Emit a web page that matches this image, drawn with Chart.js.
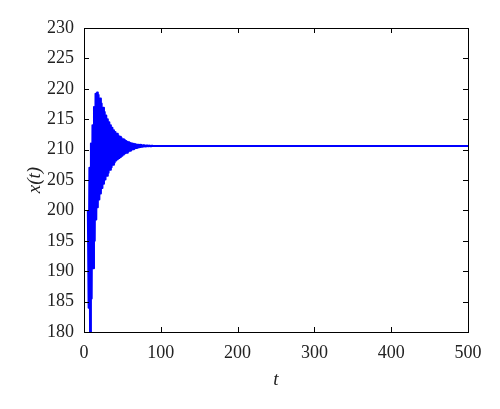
<!DOCTYPE html>
<html>
<head>
<meta charset="utf-8">
<script src="https://cdn.jsdelivr.net/npm/chart.js@4/dist/chart.umd.min.js"></script>
<style>
  body { margin: 0; background: #fff; }
  #wrap { width: 500px; height: 409px; }
</style>
</head>
<body>
<div id="wrap"><canvas id="myChart" width="500" height="409"></canvas></div>
<script>
// time points and x(t) (oscillation peaks and troughs)
var tValues = [5, 6, 7, 8, 9, 10, 11, 12, 13, 14, 15, 16, 17, 18, 19, 20,
  21, 22, 23, 24, 25, 26, 27, 28, 29, 30, 31, 32, 33, 34, 35, 36, 37, 38, 39, 40,
  41, 42, 43, 44, 45, 46, 47, 48, 49, 50, 51, 52, 53, 54, 55, 56, 57, 58, 59, 60,
  61, 62, 63, 64, 65, 66, 67, 68, 69, 70, 71, 72, 73, 74, 75, 76, 77, 78, 79, 80,
  81, 82, 83, 84, 85, 86, 87, 88, 89, 90, 100, 500];
var xValues = [200.0, 184.0, 207.0, 176.0, 211.0, 185.5, 214.0, 190.5, 217.0, 195.0,
  219.2, 198.5, 219.4, 200.5, 219.0, 201.8,
  218.4, 202.8, 217.6, 203.7, 216.9, 204.4, 216.2, 205.1, 215.6, 205.7,
  215.0, 206.2, 214.5, 206.7, 214.0, 207.1, 213.6, 207.5, 213.2, 207.9,
  212.9, 208.2, 212.6, 208.4, 212.3, 208.6, 212.1, 208.8, 211.9, 209.0,
  211.7, 209.2, 211.6, 209.4, 211.4, 209.5, 211.3, 209.7, 211.2, 209.8,
  211.1, 209.95, 211.0, 210.05, 210.95, 210.15, 210.9, 210.25, 210.85, 210.32,
  210.8, 210.38, 210.78, 210.43, 210.75, 210.47, 210.72, 210.5, 210.7, 210.52,
  210.68, 210.54, 210.67, 210.55, 210.66, 210.56, 210.65, 210.57, 210.64, 210.58,
  210.6, 210.6];

var xTicks = [0, 100, 200, 300, 400, 500];
var yTicks = [180, 185, 190, 195, 200, 205, 210, 215, 220, 225, 230];

var points = tValues.map(function (t, i) { return {x: t, y: xValues[i]}; });

// MATLAB style box with inward tick marks
var boxPlugin = {
  id: 'boxTicks',
  afterDraw: function (chart) {
    var ctx = chart.ctx, a = chart.chartArea;
    var xs = chart.scales.x, ys = chart.scales.y;
    var len = 5;
    ctx.save();
    ctx.strokeStyle = '#000';
    ctx.lineWidth = 1;
    ctx.beginPath();
    xTicks.forEach(function (v) {
      var px = Math.round(xs.getPixelForValue(v)) + 0.5;
      ctx.moveTo(px, a.bottom); ctx.lineTo(px, a.bottom - len);
      ctx.moveTo(px, a.top); ctx.lineTo(px, a.top + len);
    });
    yTicks.forEach(function (v) {
      var py = Math.round(ys.getPixelForValue(v)) + 0.5;
      ctx.moveTo(a.left, py); ctx.lineTo(a.left + len, py);
      ctx.moveTo(a.right, py); ctx.lineTo(a.right - len, py);
    });
    ctx.stroke();
    ctx.strokeRect(Math.round(a.left) + 0.5, Math.round(a.top) + 0.5,
      Math.round(a.right - a.left), Math.round(a.bottom - a.top));
    ctx.restore();
  }
};

var tickFont = {family: 'Liberation Serif', size: 18};

new Chart(document.getElementById('myChart'), {
  type: 'scatter',
  data: {
    datasets: [{
      data: points,
      showLine: true,
      borderColor: '#0000ff',
      borderWidth: 2,
      borderJoinStyle: 'round',
      pointRadius: 0,
      fill: false
    }]
  },
  options: {
    responsive: false,
    animation: false,
    layout: {padding: {top: 28, right: 32, bottom: 0, left: 0}},
    plugins: {legend: {display: false}, tooltip: {enabled: false}},
    scales: {
      x: {
        type: 'linear', min: 0, max: 500,
        afterBuildTicks: function (s) { s.ticks = xTicks.map(function (v) { return {value: v}; }); },
        afterFit: function (s) { s.height = 77; },
        grid: {display: false, drawTicks: false},
        border: {display: false},
        ticks: {color: '#222', font: tickFont, padding: 10, maxRotation: 0},
        title: {display: true, text: 't', color: '#222',
          font: {family: 'Liberation Serif', size: 19, style: 'italic', lineHeight: 1.2},
          padding: {top: 0, bottom: 18}}
      },
      y: {
        type: 'linear', min: 180, max: 230,
        afterBuildTicks: function (s) { s.ticks = yTicks.map(function (v) { return {value: v}; }); },
        afterFit: function (s) { s.width = 84; },
        grid: {display: false, drawTicks: false},
        border: {display: false},
        ticks: {color: '#222', font: tickFont, padding: 10},
        title: {display: true, text: 'x(t)', color: '#222',
          font: {family: 'Liberation Serif', size: 19, style: 'italic', lineHeight: 1.2},
          padding: {top: 24, bottom: 0}}
      }
    }
  },
  plugins: [boxPlugin]
});
</script>
</body>
</html>
